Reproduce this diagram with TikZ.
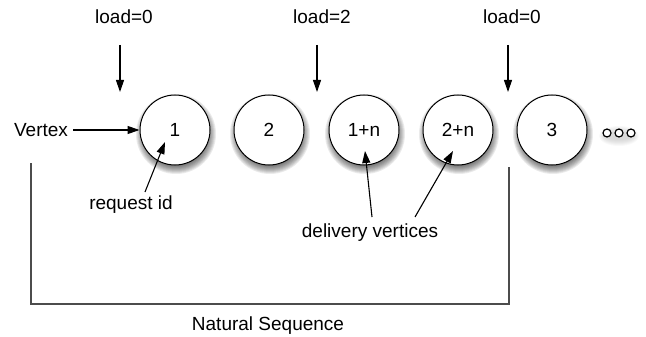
\documentclass[tikz,border=0pt]{standalone}
\usepackage{fontspec}
\setmainfont{Liberation Sans}
\usetikzlibrary{arrows.meta}
\tikzset{
  vtx/.style={circle, draw=black, line width=1pt, fill=white, minimum size=70pt, inner sep=0pt, font=\fontsize{19}{21}\selectfont},
  lbl/.style={inner sep=0pt, font=\fontsize{19}{21}\selectfont},
  arr/.style={line width=1.1pt, -{Triangle[length=12pt,width=8pt]}},
  brk/.style={line width=1.4pt, draw=black!70},
  dot/.style={circle, draw=black, line width=1.2pt, fill=white, minimum size=8pt, inner sep=0pt},
  shd/.style={fill=black, opacity=0.08},
}
\newcommand{\vshadow}[2]{\foreach \k in {0,...,11} {\fill[shd] (#1+1,#2+4) circle (29+\k);}}
\begin{document}
\begin{tikzpicture}[x=1pt,y=-1pt]
\useasboundingbox (0,0) rectangle (646,337);
% shadows
\vshadow{175}{130}
\vshadow{269}{130}
\vshadow{364}{130}
\vshadow{458}{130}
\vshadow{552}{130}
\foreach \k in {0,...,6} {\pgfmathsetmacro{\ea}{14+\k}\pgfmathsetmacro{\eb}{4+\k}\fill[black, opacity=0.025] (619,136) ellipse ({\ea} and {\eb});}
% vertices
\node[vtx] (c1) at (175,130) {1};
\node[vtx] (c2) at (269,130) {2};
\node[vtx] (c3) at (364,130) {1+n};
\node[vtx] (c4) at (458,130) {2+n};
\node[vtx] (c5) at (552,130) {3};
\node[dot] (d1) at (607,133) {};
\node[dot] (d2) at (619,133) {};
\node[dot] (d3) at (631,133) {};
% labels
\node[lbl] (l1) at (124,17) {load=0};
\node[lbl] (l2) at (322,17) {load=2};
\node[lbl] (l3) at (512,17) {load=0};
\node[lbl] (vx) at (41,130) {Vertex};
\node[lbl] (rid) at (131,205) {request id};
\node[lbl] (dv) at (370,233) {delivery vertices};
\node[lbl] (ns) at (268,326) {Natural Sequence};
% load arrows
\coordinate (a1s) at (120,45); \coordinate (a1e) at (120,92);
\coordinate (a2s) at (317,45); \coordinate (a2e) at (317,92);
\coordinate (a3s) at (508,45); \coordinate (a3e) at (508,92);
\draw[arr] (a1s) -- (a1e);
\draw[arr] (a2s) -- (a2e);
\draw[arr] (a3s) -- (a3e);
% vertex arrow
\draw[arr] (vx.east) ++(5,0) -- (c1.west);
% request id arrow
\coordinate (rs) at (145,192); \coordinate (re) at (165,142);
\draw[arr] (rs) -- (re);
% delivery arrows
\coordinate (ds1) at (372,217); \coordinate (de1) at (365,151);
\coordinate (ds2) at (415,217); \coordinate (de2) at (453,151);
\draw[arr] (ds1) -- (de1);
\draw[arr] (ds2) -- (de2);
% bracket
\coordinate (bl) at (31,163); \coordinate (br) at (509,167);
\draw[brk] (bl) |- (br |- 0,304) -- (br);
\end{tikzpicture}
\end{document}
